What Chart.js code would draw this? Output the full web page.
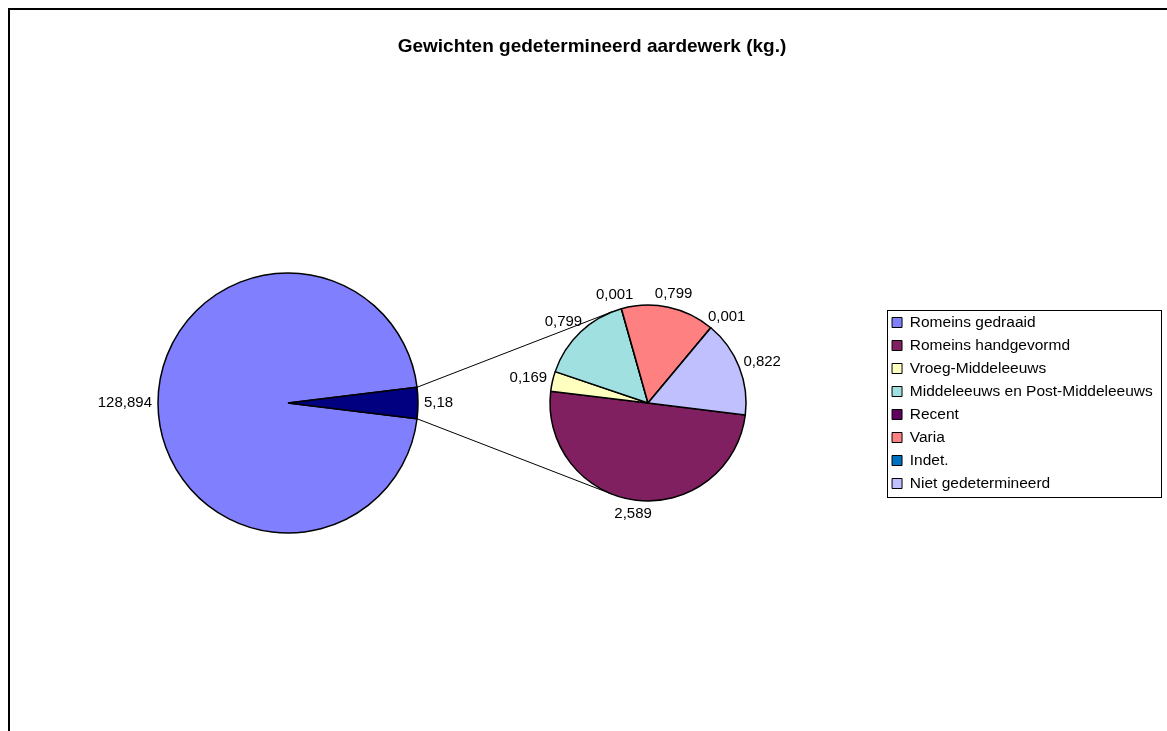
<!DOCTYPE html>
<html>
<head>
<meta charset="utf-8">
<script src="https://cdn.jsdelivr.net/npm/chart.js@4/dist/chart.umd.min.js"></script>
<style>
  body { margin: 0; background: #fff; overflow: hidden; }
  #frame { position: absolute; left: 8px; top: 8px; width: 1200px; height: 760px;
           border-top: 2px solid #000; border-left: 2px solid #000; }
  canvas { position: absolute; left: 8px; top: 0; }
</style>
</head>
<body>
<div id="frame"></div>
<canvas id="mainPie" width="1168" height="731"></canvas>
<canvas id="detailPie" width="1168" height="731"></canvas>
<script>
// main pie: the big category, the rest is split out in the second pie
const mainLabel = "Romeins gedraaid";
const mainValue = 128.894;
const mainColor = "#8080FF";
const otherColor = "#000080";

const detailLabels = [
  "Romeins handgevormd",
  "Vroeg-Middeleeuws",
  "Middeleeuws en Post-Middeleeuws",
  "Recent",
  "Varia",
  "Indet.",
  "Niet gedetermineerd"
];
const detailValues = [2.589, 0.169, 0.799, 0.001, 0.799, 0.001, 0.822];
const detailColors = ["#802060", "#FFFFC0", "#A0E0E0", "#600060", "#FF8080", "#0070C0", "#C0C0FF"];

const titleText = "Gewichten gedetermineerd aardewerk (kg.)";

Chart.defaults.font.family = "'Liberation Sans', Arial, sans-serif";
Chart.defaults.color = "#000";

const otherValue = parseFloat(detailValues.reduce((a, b) => a + b, 0).toFixed(3));
const total = mainValue + otherValue;
// put the "other" slice centred on the right side (3 o'clock)
const mainRotation = 90 - (mainValue + otherValue / 2) / total * 360;

const fmt = v => String(v).replace(".", ",");

// value labels just outside each slice
const sliceLabels = {
  id: "sliceLabels",
  afterDatasetsDraw(chart) {
    const ctx = chart.ctx;
    const values = chart.data.datasets[0].data;
    ctx.save();
    ctx.font = "15px 'Liberation Sans', Arial, sans-serif";
    ctx.fillStyle = "#000";
    ctx.textAlign = "center";
    ctx.textBaseline = "middle";
    chart.getDatasetMeta(0).data.forEach((arc, i) => {
      const mid = (arc.startAngle + arc.endAngle) / 2;
      const text = fmt(values[i]);
      const w = ctx.measureText(text).width;
      const r = arc.outerRadius + 6;
      const x = arc.x + Math.cos(mid) * r + Math.cos(mid) * w / 2;
      const y = arc.y + Math.sin(mid) * r + Math.sin(mid) * 8;
      ctx.fillText(text, x, y);
    });
    ctx.restore();
  }
};

// title centred over the whole frame
const frameTitle = {
  id: "frameTitle",
  afterDraw(chart) {
    const ctx = chart.ctx;
    ctx.save();
    ctx.font = "bold 19px 'Liberation Sans', Arial, sans-serif";
    ctx.fillStyle = "#000";
    ctx.textAlign = "center";
    ctx.textBaseline = "middle";
    ctx.fillText(titleText, chart.width / 2, 47);
    ctx.restore();
  }
};

const mainChart = new Chart(document.getElementById("mainPie"), {
  type: "pie",
  data: {
    labels: [mainLabel, "Overig"],
    datasets: [{
      data: [mainValue, otherValue],
      backgroundColor: [mainColor, otherColor],
      borderColor: "#000",
      borderWidth: 1.5,
      radius: 130
    }]
  },
  options: {
    responsive: false,
    animation: false,
    rotation: mainRotation,
    layout: { padding: { left: 10, right: 618, top: 100, bottom: 25 } },
    plugins: {
      legend: { display: false },
      tooltip: { enabled: false },
      title: { display: false }
    }
  },
  plugins: [sliceLabels, frameTitle]
});

// lines from the "other" slice to the second pie (tangents)
const connectors = {
  id: "connectors",
  beforeDatasetsDraw(chart) {
    const other = mainChart.getDatasetMeta(0).data[1];
    const arc = chart.getDatasetMeta(0).data[0];
    const cx = arc.x, cy = arc.y, r2 = arc.outerRadius;
    const ctx = chart.ctx;
    ctx.save();
    ctx.strokeStyle = "#000";
    ctx.lineWidth = 1;
    [[other.startAngle, 1], [other.endAngle, -1]].forEach(([a, sign]) => {
      const px = other.x + Math.cos(a) * other.outerRadius;
      const py = other.y + Math.sin(a) * other.outerRadius;
      const d = Math.hypot(px - cx, py - cy);
      const phi = Math.atan2(py - cy, px - cx);
      const t = phi + sign * Math.acos(r2 / d);
      ctx.beginPath();
      ctx.moveTo(px, py);
      ctx.lineTo(cx + Math.cos(t) * r2, cy + Math.sin(t) * r2);
      ctx.stroke();
    });
    ctx.restore();
  }
};

// frame around the legend items
const legendFrame = {
  id: "legendFrame",
  afterDraw(chart) {
    const boxes = chart.legend.legendHitBoxes;
    if (!boxes || !boxes.length) return;
    const first = boxes[0], last = boxes[boxes.length - 1];
    const left = Math.min(...boxes.map(b => b.left)) - 5;
    const right = Math.max(...boxes.map(b => b.left + b.width)) + 8;
    const top = first.top - 5;
    const bottom = last.top + last.height + 5;
    const ctx = chart.ctx;
    ctx.save();
    ctx.strokeStyle = "#000";
    ctx.lineWidth = 1;
    ctx.strokeRect(Math.round(left) + 0.5, Math.round(top) + 0.5,
      Math.round(right - left), Math.round(bottom - top));
    ctx.restore();
  }
};

new Chart(document.getElementById("detailPie"), {
  type: "pie",
  data: {
    labels: detailLabels,
    datasets: [{
      data: detailValues,
      backgroundColor: detailColors,
      borderColor: "#000",
      borderWidth: 1.5,
      radius: 98
    }]
  },
  options: {
    responsive: false,
    animation: false,
    rotation: 97,
    layout: { padding: { left: 403.5, right: 13.25, top: 100, bottom: 25 } },
    plugins: {
      tooltip: { enabled: false },
      legend: {
        position: "right",
        labels: {
          boxWidth: 10,
          boxHeight: 10,
          padding: 7.5,
          font: { size: 15.5 },
          generateLabels: () => [mainLabel, ...detailLabels].map((text, i) => ({
            text,
            fillStyle: [mainColor, ...detailColors][i],
            strokeStyle: "#000",
            lineWidth: 1,
            hidden: false,
            index: i
          }))
        }
      }
    }
  },
  plugins: [connectors, sliceLabels, legendFrame]
});
</script>
</body>
</html>
